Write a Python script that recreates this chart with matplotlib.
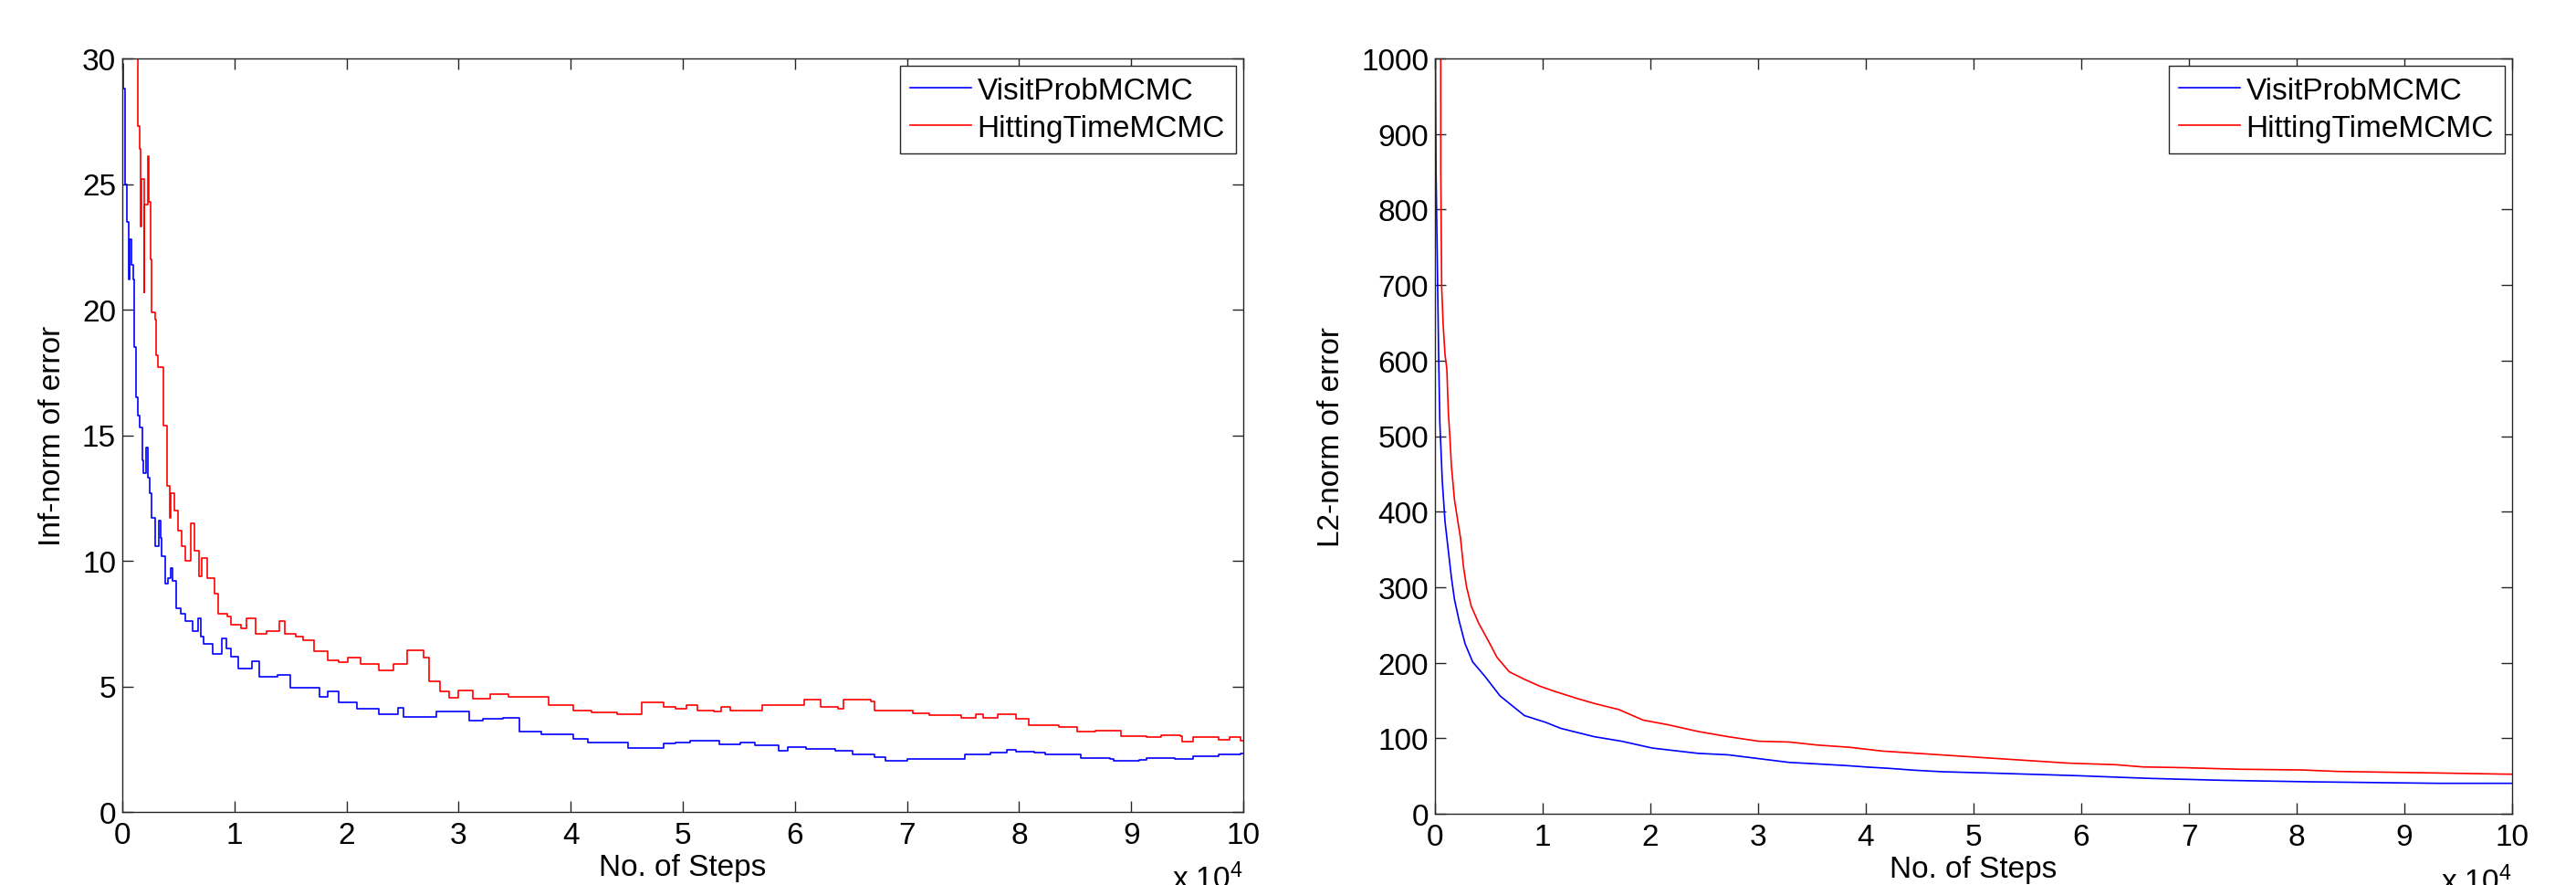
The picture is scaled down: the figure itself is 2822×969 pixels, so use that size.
import matplotlib
matplotlib.use('Agg')
import matplotlib.pyplot as plt

plt.rcParams['font.family'] = ['Liberation Sans', 'DejaVu Sans']
plt.rcParams['mathtext.default'] = 'regular'

# --- left panel: inf-norm of error ---
inf_visit_x = [0, 120, 220, 430, 545, 650, 800, 977, 1086, 1249, 1400, 1574, 1771, 1900,
               2093, 2250, 2415, 2576, 2898, 3220, 3400, 3542, 3864, 4100, 4347, 4500,
               4830, 5200, 5635, 6279, 6762, 7000, 7245, 8050, 8855, 9300, 9660, 10304,
               11592, 12236, 13846, 14973, 16744, 17549, 18354, 19320, 20930, 22862,
               24633, 25116, 28014, 30912, 32200, 33971, 35420, 37352, 40250, 41538,
               45080, 48300, 49349, 50641, 51610, 53225, 55163, 56455, 58555, 59362,
               60977, 63561, 65176, 67114, 68083, 70021, 73251, 75189, 77450, 78903,
               79711, 81326, 82295, 84879, 85525, 88109, 88432, 90693, 91339, 93923,
               95538, 97799, 99737, 100000]
inf_visit_y = [29.8, 28.8, 25.0, 23.5, 21.2, 22.8, 21.8, 21.2, 18.5, 16.5, 15.8, 15.3, 14.0, 13.5,
               14.5, 13.3, 12.7, 11.7, 10.6, 11.6, 10.9, 10.2, 9.1, 9.3, 9.7, 9.2,
               8.1, 7.9, 7.6, 7.2, 7.7, 7.0, 6.7, 6.3, 6.9, 6.5, 6.2, 5.7,
               6.0, 5.4, 5.45, 4.95, 4.95, 4.6, 4.8, 4.35, 4.1, 3.9,
               4.15, 3.8, 4.0, 3.65, 3.7, 3.75, 3.2, 3.1, 2.9, 2.75,
               2.55, 2.72, 2.75, 2.85, 2.85, 2.69, 2.75, 2.67, 2.45, 2.6,
               2.52, 2.45, 2.28, 2.18, 2.04, 2.12, 2.12, 2.3, 2.36, 2.49,
               2.39, 2.36, 2.28, 2.3, 2.15, 2.12, 2.04, 2.06, 2.16, 2.12,
               2.21, 2.3, 2.33, 2.33]

inf_hit_x = [0, 1384, 1550, 1655, 1710, 1927, 1990, 2252, 2330, 2551, 2633, 2959, 3040,
             3176, 3691, 3961, 4200, 4347, 4669, 4991, 5300, 5635, 6118, 6440, 6826,
             7084, 7567, 8211, 8533, 9338, 9660, 10626, 11109, 11914, 12880, 14007,
             14490, 15456, 16100, 17066, 18354, 19320, 20125, 21252, 22862, 24150,
             25438, 26887, 27370, 28336, 29141, 29946, 31234, 32844, 34454, 36064,
             37996, 40250, 41860, 44114, 46368, 48300, 49349, 50318, 51287, 52740,
             53386, 54194, 57101, 59039, 60815, 62269, 63884, 64369, 66791, 67114,
             70506, 71960, 74866, 76158, 76805, 78096, 79711, 80842, 83587, 85202,
             86817, 89078, 91339, 92631, 94407, 94569, 95538, 97799, 98768, 99737, 100000]
inf_hit_y = [35.0, 27.3, 26.4, 23.3, 25.2, 20.7, 24.2, 26.1, 24.3, 22.0, 19.9, 19.6, 18.2,
             17.7, 15.4, 13.0, 11.7, 12.7, 12.0, 11.2, 10.6, 10.0, 11.5, 10.4, 9.4,
             10.1, 9.3, 8.7, 7.9, 7.8, 7.45, 7.3, 7.7, 7.1, 7.2, 7.6,
             7.1, 7.0, 6.85, 6.4, 6.05, 5.95, 6.15, 5.9, 5.65, 5.9,
             6.45, 6.15, 5.2, 4.8, 4.55, 4.85, 4.5, 4.7, 4.6, 4.6,
             4.25, 4.05, 3.95, 3.9, 4.35, 4.2, 4.12, 4.24, 4.02, 4.0,
             4.18, 4.02, 4.27, 4.24, 4.46, 4.18, 4.1, 4.48, 4.39, 4.05,
             3.94, 3.84, 3.76, 3.9, 3.73, 3.88, 3.7, 3.45, 3.39, 3.21,
             3.25, 3.03, 3.0, 3.05, 3.03, 2.79, 2.97, 2.88, 3.0, 2.85, 2.85]

# --- right panel: L2-norm of error ---
l2_visit_x = [0, 100, 339, 452, 678, 932, 1243, 1525, 1808, 2232, 2797, 3503, 4633, 6045,
              8305, 10283, 11695, 14803, 17345, 20170, 24408, 27233, 30058, 32883, 35478,
              38287, 40233, 42179, 44557, 47151, 51259, 56016, 59691, 63367, 66394,
              73096, 81308, 93199, 100000]
l2_visit_y = [1100, 850, 608, 518, 441, 387, 348, 313, 284, 256, 225, 201, 182, 156,
              130, 121, 113, 102, 96, 87, 80, 78, 73, 68, 66,
              63.7, 61.7, 60.1, 57.6, 55.6, 54, 52, 50.4, 48.4, 46.8,
              44.3, 42.3, 40.3, 40.3]

l2_hit_x = [0, 530, 537, 622, 763, 932, 1102, 1243, 1384, 1525, 1808, 2090, 2373, 2656, 2938,
            3363, 4068, 4915, 5763, 6893, 8305, 9718, 11130, 13108, 14803, 17063, 19323,
            21583, 24408, 27233, 30058, 32883, 35478, 38503, 41529, 45853, 50177, 54500,
            58824, 63148, 65742, 69633, 74390, 80443, 83902, 92983, 99684, 100000]
l2_hit_y = [1500, 1500, 855, 698, 647, 608, 589, 531, 499, 461, 416, 390, 365, 326, 300,
            275, 252, 230, 207, 188, 178, 169, 162, 153, 146, 138, 124,
            118, 109, 102, 96, 95, 91, 88, 83, 79, 75, 71,
            67, 65, 62, 61, 59, 58, 56, 54, 52.4, 52.4]

x_ticks = list(range(0, 100001, 10000))
x_tick_labels = [str(i) for i in range(11)]
labels = ['VisitProbMCMC', 'HittingTimeMCMC']

fig = plt.figure(figsize=(28.22, 9.70), dpi=100)
ax1 = fig.add_axes([134 / 2822, 1 - 890 / 970, 1228 / 2822, 825 / 970])
ax2 = fig.add_axes([1572 / 2822, 1 - 892 / 970, 1180 / 2822, 827 / 970])

panels = [
    (ax1, inf_visit_x, inf_visit_y, inf_hit_x, inf_hit_y, 30, 5, 'Inf-norm of error', 'steps-post'),
    (ax2, l2_visit_x, l2_visit_y, l2_hit_x, l2_hit_y, 1000, 100, 'L2-norm of error', 'default'),
]

edge = '#262626'
fs = 24
for ax, vx, vy, hx, hy, ymax, ystep, ylab, ds in panels:
    ax.plot(vx, vy, color='#0000ff', lw=1.2, drawstyle=ds, label=labels[0])
    ax.plot(hx, hy, color='#ff0000', lw=1.2, drawstyle=ds, label=labels[1])
    ax.set_xlim(0, 100000)
    ax.set_ylim(0, ymax)
    ax.set_xticks(x_ticks)
    ax.set_xticklabels(x_tick_labels)
    ax.set_yticks(list(range(0, ymax + 1, ystep)))
    ax.tick_params(direction='in', length=8.5, width=1.0, top=True, right=True,
                   labelsize=fs, colors=edge, labelcolor='black')
    ax.tick_params(axis='x', pad=7)
    ax.tick_params(axis='y', pad=5)
    for s in ax.spines.values():
        s.set_color(edge)
        s.set_linewidth(1.0)
    ax.set_xlabel('No. of Steps', fontsize=fs, labelpad=3)
    ax.set_ylabel(ylab, fontsize=fs, labelpad=12)
    ax.text(1.0, -0.068, r'x 10$^{4}$', fontsize=fs, ha='right', va='top',
            transform=ax.transAxes)
    leg = ax.legend(loc='upper right', fontsize=fs, fancybox=False, framealpha=1,
                    edgecolor=edge, borderaxespad=0.25, handlelength=2.0,
                    handletextpad=0.2, labelspacing=0.3, borderpad=0.35)
    leg.get_frame().set_linewidth(1.0)

fig.savefig('out.png', dpi=100)
